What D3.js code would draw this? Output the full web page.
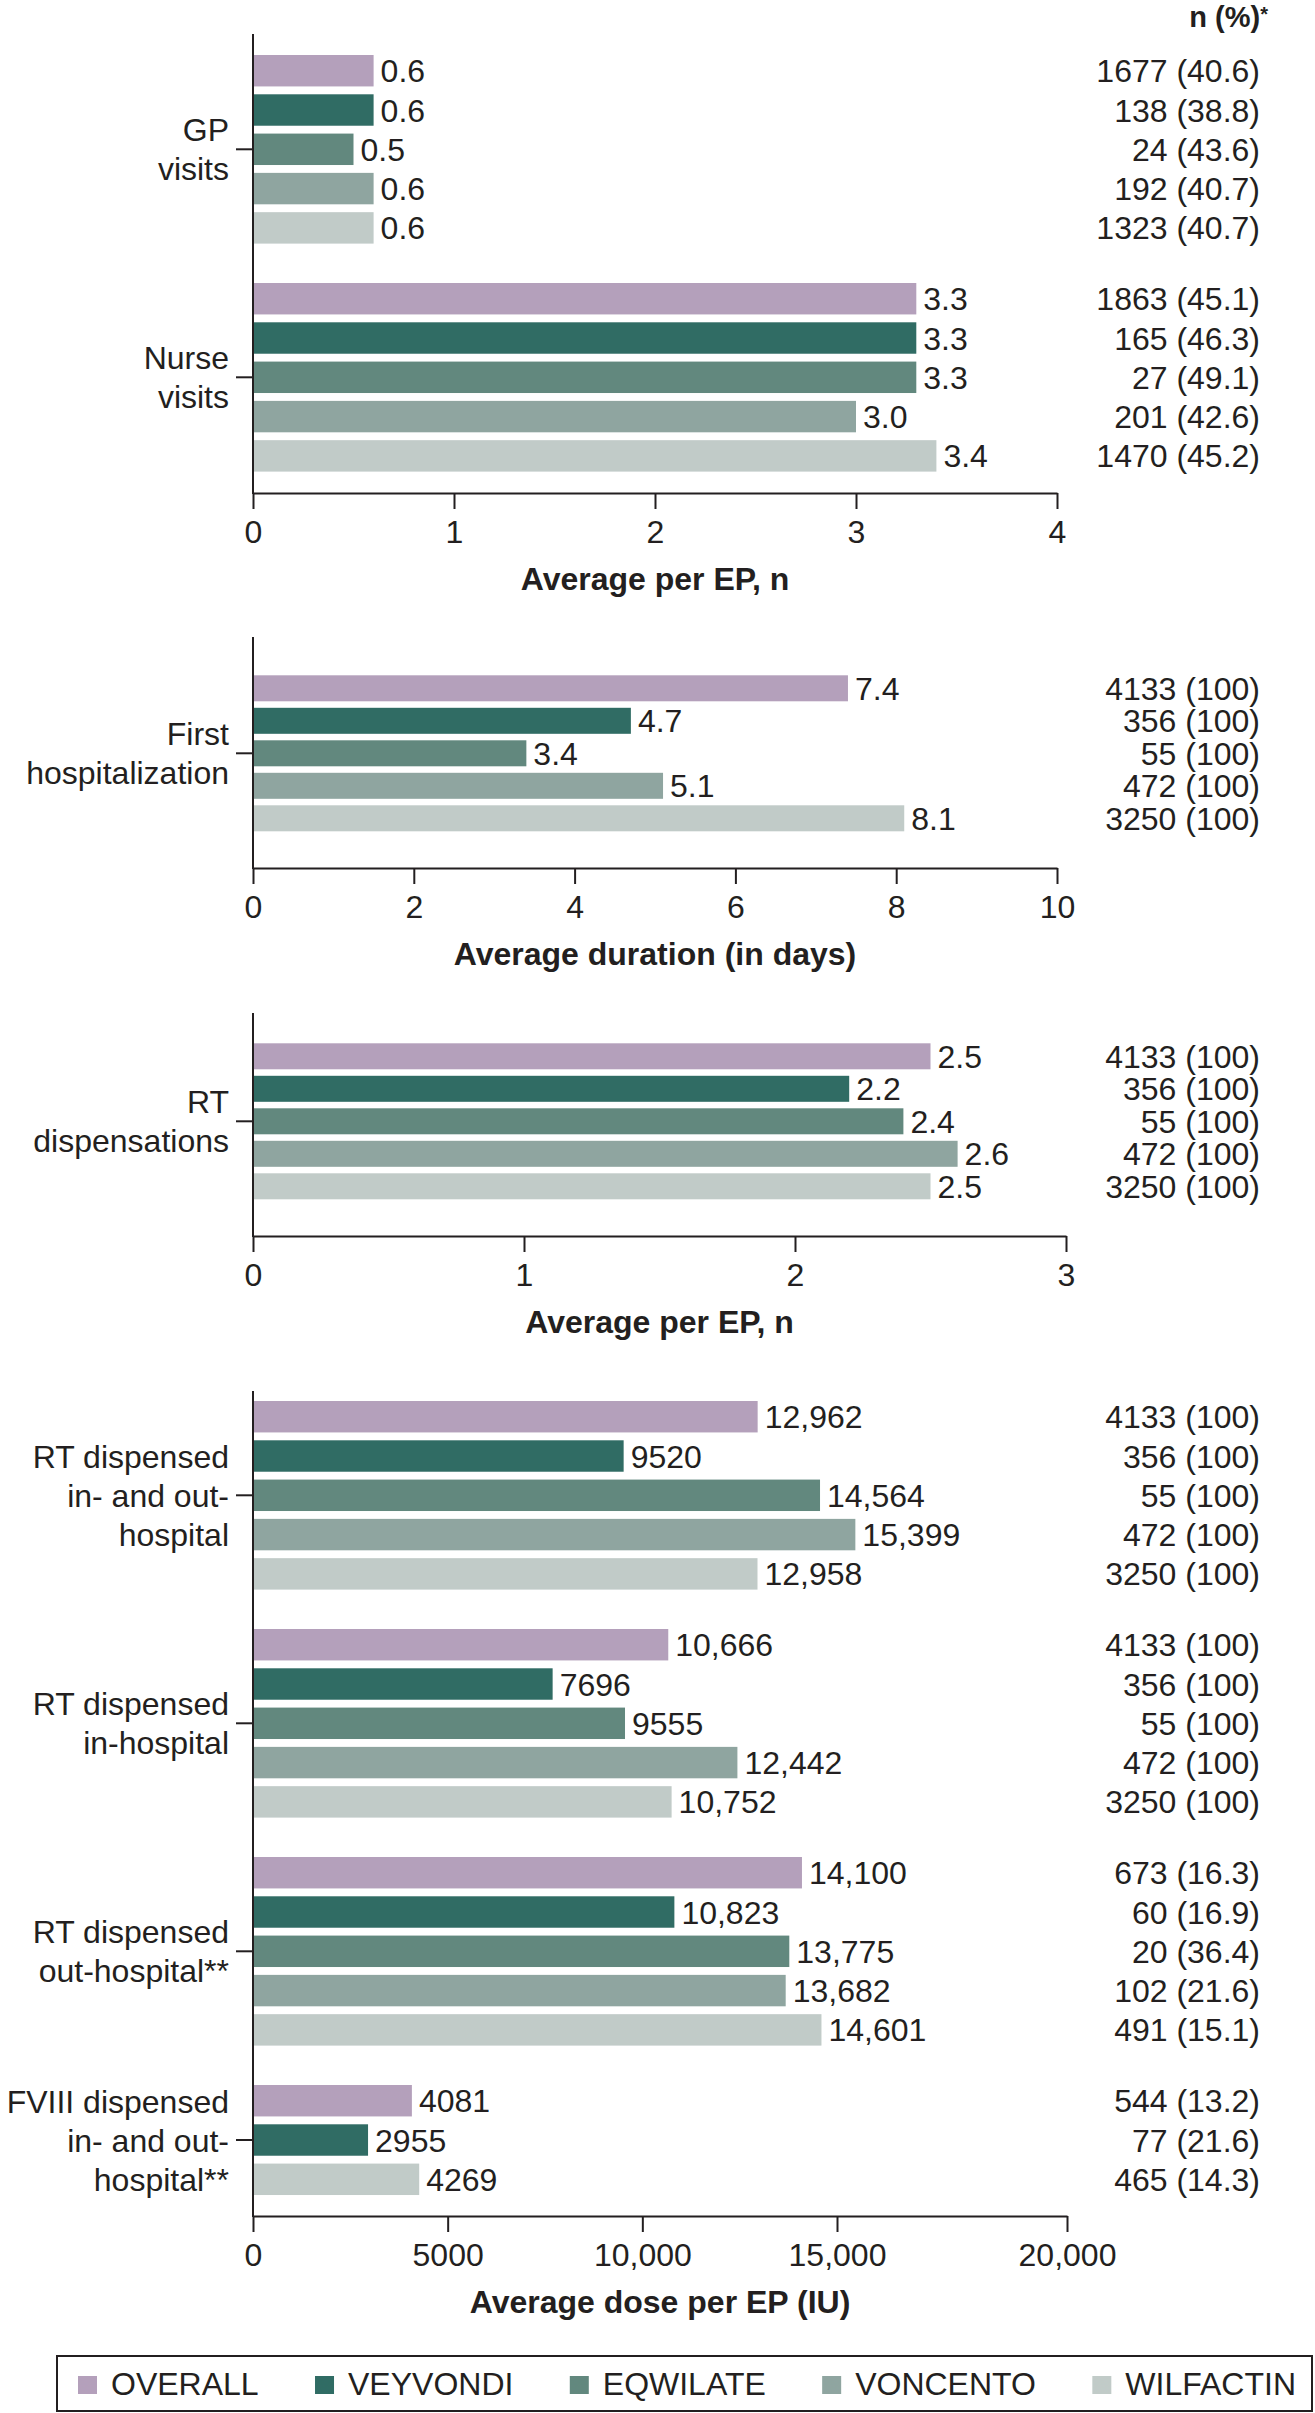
<!DOCTYPE html>
<html>
<head>
<meta charset="utf-8">
<script src="https://cdn.jsdelivr.net/npm/d3@7"></script>
<style>
  html, body { margin: 0; padding: 0; background: #ffffff; }
  svg text { font-family: "Liberation Sans", Arial, Helvetica, sans-serif; fill: #231f20; }
</style>
</head>
<body>
<svg id="chart" width="1315" height="2413"></svg>
<script>
// ---------------- DATA ----------------
const series = ["OVERALL", "VEYVONDI", "EQWILATE", "VONCENTO", "WILFACTIN"];
const seriesColors = ["#b4a0bb", "#306c64", "#62887e", "#8fa5a0", "#c1cbc8"];

const allN = [4133, 356, 55, 472, 3250];
const allPct = ["100", "100", "100", "100", "100"];

const gpVisits = [0.6, 0.6, 0.5, 0.6, 0.6];
const gpN = [1677, 138, 24, 192, 1323];
const gpPct = ["40.6", "38.8", "43.6", "40.7", "40.7"];

const nurseVisits = [3.3, 3.3, 3.3, 3.0, 3.4];
const nurseN = [1863, 165, 27, 201, 1470];
const nursePct = ["45.1", "46.3", "49.1", "42.6", "45.2"];

const firstHospDays = [7.4, 4.7, 3.4, 5.1, 8.1];

const rtDispensations = [2.5, 2.2, 2.4, 2.6, 2.5];

const rtInOutDose = [12962, 9520, 14564, 15399, 12958];
const rtInDose = [10666, 7696, 9555, 12442, 10752];
const rtOutDose = [14100, 10823, 13775, 13682, 14601];
const rtOutN = [673, 60, 20, 102, 491];
const rtOutPct = ["16.3", "16.9", "36.4", "21.6", "15.1"];

const fviiiSeries = ["OVERALL", "VEYVONDI", "WILFACTIN"];
const fviiiDose = [4081, 2955, 4269];
const fviiiN = [544, 77, 465];
const fviiiPct = ["13.2", "21.6", "14.3"];

const ticksVisits = [0, 1, 2, 3, 4];
const ticksDays = [0, 2, 4, 6, 8, 10];
const ticksDisp = [0, 1, 2, 3];
const ticksDose = [0, 5000, 10000, 15000, 20000];

// ---------------- LAYOUT ----------------
const svg = d3.select("#chart");
const ink = "#231f20";
const FS = 32;
const X0 = 253;
const groupStep = 228, groupPad = 0.1728;
const labelLineH = 39;

const color = d3.scaleOrdinal().domain(series).range(seriesColors);
const fmt1 = d3.format(".1f");
const fmtDose = v => v >= 10000 ? d3.format(",")(v) : String(v);

function drawPanel(cfg) {
  const g = svg.append("g");
  const x = cfg.x;
  const keys = cfg.groups.map(d => d.key);
  const outer = d3.scaleBand().domain(keys)
    .range([cfg.barsTop, cfg.barsTop + groupStep * (keys.length - groupPad)])
    .paddingInner(groupPad).paddingOuter(0);
  const inner = d3.scaleBand().domain(d3.range(5))
    .range([0, outer.bandwidth()]).paddingInner(0.2).paddingOuter(0);

  cfg.groups.forEach(grp => {
    const rows = grp.values.map((v, i) => ({
      v, s: grp.series[i], n: grp.n[i], pct: grp.pct[i],
      y: outer(grp.key) + inner(i)
    }));
    g.selectAll(null).data(rows).enter().append("rect")
      .attr("x", x(0)).attr("y", d => d.y)
      .attr("width", d => x(d.v) - x(0)).attr("height", inner.bandwidth())
      .attr("fill", d => color(d.s));
    g.selectAll(null).data(rows).enter().append("text")
      .attr("x", d => x(d.v) + 7).attr("y", d => d.y + inner.bandwidth() / 2)
      .attr("dy", "0.36em").attr("font-size", FS)
      .text(d => cfg.valueFormat(d.v));
    g.selectAll(null).data(rows).enter().append("text")
      .attr("x", 1260).attr("y", d => d.y + inner.bandwidth() / 2)
      .attr("dy", "0.36em").attr("font-size", FS).attr("text-anchor", "end")
      .text(d => `${d.n} (${d.pct})`);

    // category tick + label
    const cy = outer(grp.key) + (inner(grp.values.length - 1) + inner.bandwidth()) / 2;
    g.append("line").attr("x1", X0 - 17).attr("x2", X0).attr("y1", cy).attr("y2", cy)
      .attr("stroke", ink).attr("stroke-width", 2);
    const t = g.append("text").attr("text-anchor", "end").attr("font-size", FS);
    grp.label.forEach((line, i) => {
      t.append("tspan").attr("x", X0 - 24)
        .attr("y", cy + (i - (grp.label.length - 1) / 2) * labelLineH + 11.5)
        .text(line);
    });
  });

  // y axis line
  g.append("line").attr("x1", X0).attr("x2", X0)
    .attr("y1", cfg.axisTop).attr("y2", cfg.xAxisY + 1)
    .attr("stroke", ink).attr("stroke-width", 2);

  // x axis
  const ax = g.append("g").attr("transform", `translate(0,${cfg.xAxisY})`)
    .call(d3.axisBottom(x).tickValues(cfg.ticks).tickFormat(cfg.tickFormat)
      .tickSize(16).tickSizeOuter(0).tickPadding(11));
  ax.select(".domain").attr("stroke", ink).attr("stroke-width", 2.2);
  ax.selectAll(".tick line").attr("stroke", ink).attr("stroke-width", 2);
  ax.selectAll(".tick text").attr("font-size", FS).attr("fill", ink)
    .attr("font-family", '"Liberation Sans", Arial, Helvetica, sans-serif');

  const [r0, r1] = [x.range()[0], x.range()[x.range().length - 1]];
  g.append("text").attr("x", (r0 + r1) / 2).attr("y", cfg.xAxisY + 97)
    .attr("text-anchor", "middle").attr("font-size", FS).attr("font-weight", "bold")
    .text(cfg.title);
}

// Header
const hdr = svg.append("text").attr("x", 1268).attr("y", 27)
  .attr("text-anchor", "end").attr("font-weight", "bold").attr("font-size", 29);
hdr.append("tspan").text("n (%)");
hdr.append("tspan").attr("font-size", 20).attr("dy", -6).text("*");

// Panel 1
drawPanel({
  axisTop: 34, barsTop: 55, xAxisY: 493,
  x: d3.scaleLinear().domain([0, 4]).range([X0, 1057]),
  ticks: ticksVisits, tickFormat: d3.format("d"),
  valueFormat: fmt1, title: "Average per EP, n",
  groups: [
    { key: "GP visits", label: ["GP", "visits"], series: series, values: gpVisits, n: gpN, pct: gpPct },
    { key: "Nurse visits", label: ["Nurse", "visits"], series: series, values: nurseVisits, n: nurseN, pct: nursePct }
  ]
});

// Panel 2
drawPanel({
  axisTop: 637, barsTop: 659, xAxisY: 868,
  x: d3.scaleLinear().domain([0, 10]).range([X0, 1057]),
  ticks: ticksDays, tickFormat: d3.format("d"),
  valueFormat: fmt1, title: "Average duration (in days)",
  groups: [
    { key: "First hospitalization", label: ["First", "hospitalization"], series: series, values: firstHospDays, n: allN, pct: allPct }
  ]
});

// Panel 3
drawPanel({
  axisTop: 1013, barsTop: 1027, xAxisY: 1236,
  x: d3.scaleLinear().domain([0, 3]).range([X0, 1066]),
  ticks: ticksDisp, tickFormat: d3.format("d"),
  valueFormat: fmt1, title: "Average per EP, n",
  groups: [
    { key: "RT dispensations", label: ["RT", "dispensations"], series: series, values: rtDispensations, n: allN, pct: allPct }
  ]
});

// Panel 4
drawPanel({
  axisTop: 1391, barsTop: 1401, xAxisY: 2216,
  x: d3.scaleLinear().domain([0, 15000, 20000]).range([X0, 837, 1067]),
  ticks: ticksDose, tickFormat: fmtDose,
  valueFormat: fmtDose, title: "Average dose per EP (IU)",
  groups: [
    { key: "RT in-out", label: ["RT dispensed", "in- and out-", "hospital"], series: series, values: rtInOutDose, n: allN, pct: allPct },
    { key: "RT in", label: ["RT dispensed", "in-hospital"], series: series, values: rtInDose, n: allN, pct: allPct },
    { key: "RT out", label: ["RT dispensed", "out-hospital**"], series: series, values: rtOutDose, n: rtOutN, pct: rtOutPct },
    { key: "FVIII", label: ["FVIII dispensed", "in- and out-", "hospital**"], series: fviiiSeries, values: fviiiDose, n: fviiiN, pct: fviiiPct }
  ]
});

// Legend
const lg = svg.append("g");
lg.append("rect").attr("x", 57).attr("y", 2356).attr("width", 1255).attr("height", 55)
  .attr("fill", "none").attr("stroke", ink).attr("stroke-width", 2);
const items = series.map(s => {
  const t = lg.append("text").attr("font-size", FS).attr("y", 2395).text(s);
  return { s, t, w: t.node().getComputedTextLength() };
});
const sq = 19, sqGap = 14, startX = 78, endX = 1296;
const totalFixed = d3.sum(items, d => sq + sqGap + d.w);
const gap = (endX - startX - totalFixed) / (items.length - 1);
let cx = startX;
items.forEach(d => {
  lg.append("rect").attr("x", cx).attr("y", 2376).attr("width", sq).attr("height", 18)
    .attr("fill", color(d.s));
  d.t.attr("x", cx + sq + sqGap);
  cx += sq + sqGap + d.w + gap;
});
</script>
</body>
</html>
